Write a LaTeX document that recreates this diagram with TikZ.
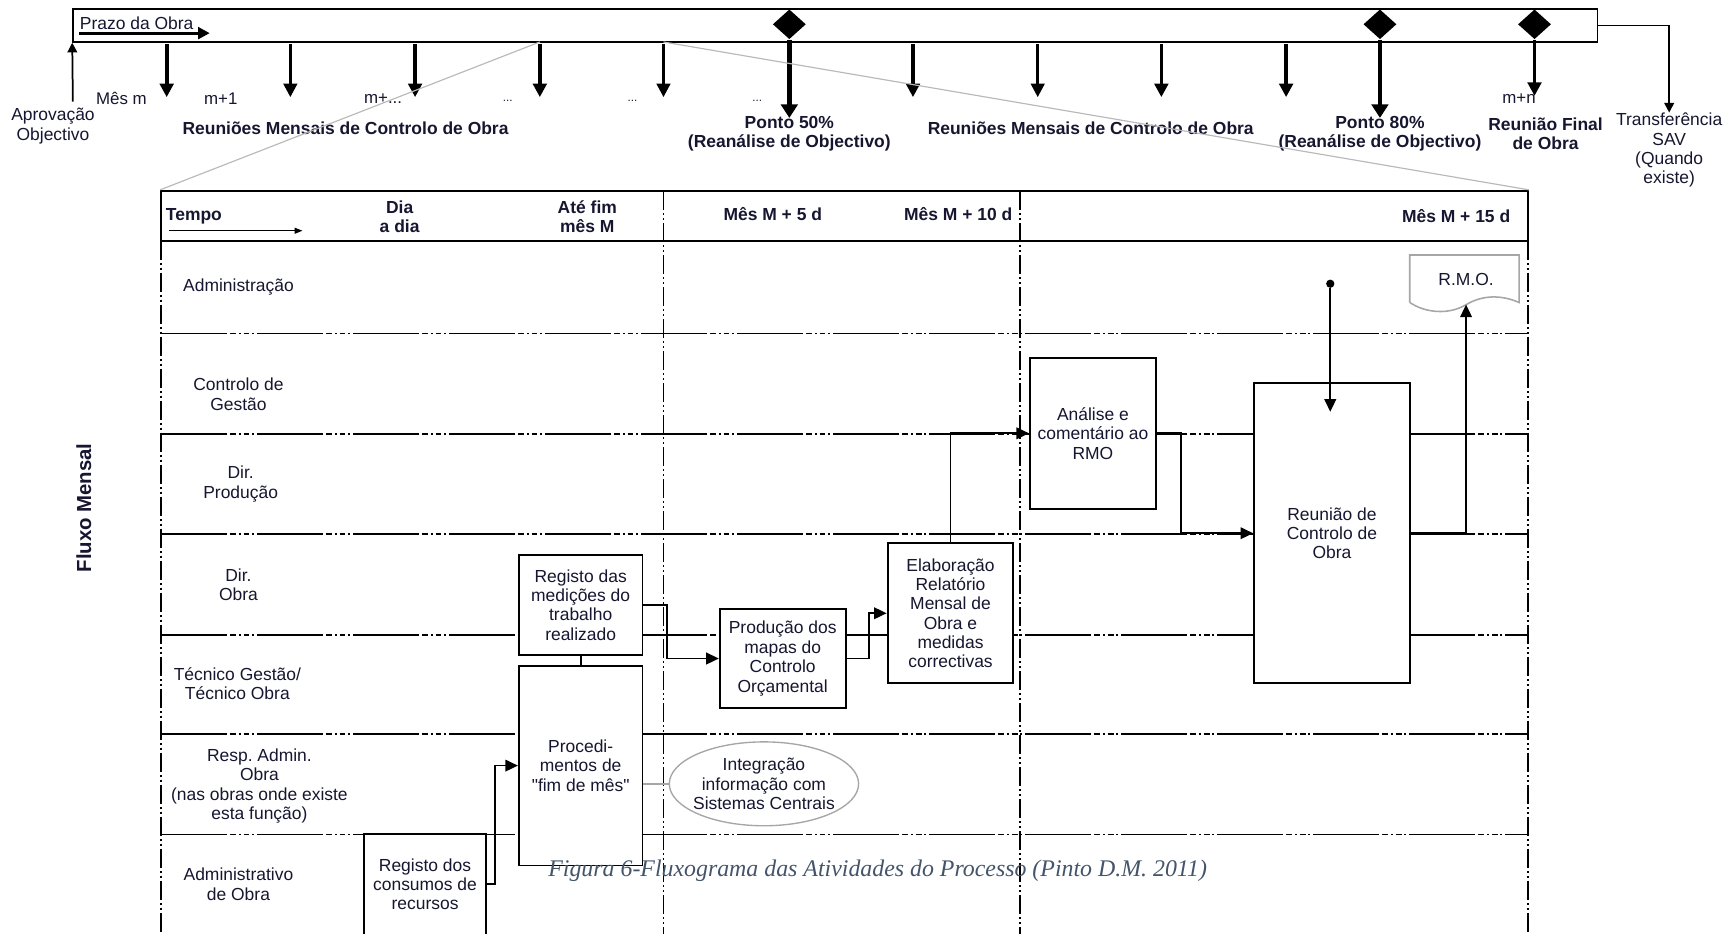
\documentclass[tikz,border=0pt]{standalone}
\usepackage{fontspec}
\setmainfont{Liberation Sans}
\newfontfamily\legendafont{Liberation Serif}
\usetikzlibrary{arrows.meta,positioning,shapes.geometric,calc}
\definecolor{tinta}{RGB}{22,22,48}
\definecolor{legendacor}{RGB}{68,84,106}

\begin{document}
\frenchspacing
\begin{tikzpicture}[x=0.02cm,y=-0.02cm,
    font=\fontsize{9}{10}\selectfont, text=tinta,
    rotulo/.style={align=center, inner sep=0pt},
    negrito/.style={rotulo, font=\fontsize{9}{10}\selectfont\bfseries},
    caixa/.style={draw, line width=1pt, fill=white, align=center, inner sep=1pt},
    fluxo/.style={line width=0.9pt, -{Triangle[length=6.5pt,width=6pt]}},
    fino/.style={line width=0.9pt, -{Triangle[length=5pt,width=5pt]}},
    mensal/.style={line width=1.9pt, -{Triangle[length=7pt,width=7pt]}},
    marcoseta/.style={line width=2.4pt, -{Triangle[length=7pt,width=8.5pt]}},
    marco/.style={diamond, fill=black, inner sep=0pt, minimum width=0.6cm, minimum height=0.54cm},
    raia/.style={line width=0.9pt, dash pattern=on 34pt off 1.5pt on 3pt off 1.5pt on 1pt off 1.5pt on 3pt off 1.5pt on 1pt off 1.5pt},
    coluna/.style={line width=0.9pt, dash pattern=on 10pt off 1.5pt on 1pt off 1.5pt on 1pt off 1.5pt},
  ]
  \useasboundingbox (0,0) rectangle (1568,846);
  \clip (0,0) rectangle (1568,846);

  % barra do prazo da obra
  \node[draw, line width=0.8pt, minimum width=27.62cm, minimum height=0.6cm, inner sep=0pt] (prazo) at (756.5,23) {};
  \node[rotulo, anchor=base west] (prazotxt) at (72,27) {Prazo da Obra};
  \draw[line width=1.6pt, -{Triangle[length=6pt,width=6pt]}] (72,30) -- (190,30);

  \node[rotulo] (aprov) at (48,114) {Aprovação\\Objectivo};
  \coordinate (aprovbase) at (66,92);
  \draw[fino] (aprovbase) -- (prazo.south west);

  \foreach \x/\w in {151/2.1pt,263/1.5pt,376/2.1pt,489/2.1pt,601/1.5pt,827/2.1pt,940/1.5pt,1052/1.9pt,1165/2.1pt}
    \draw[mensal, line width=\w] (\x,40) -- (\x,88);

  \node[rotulo, font=\fontsize{8.7}{10}\selectfont] (mes1) at (110,89) {Mês m};
  \node[rotulo, font=\fontsize{8.7}{10}\selectfont] (mes2) at (200,89) {m+1};
  \node[rotulo, font=\fontsize{8.7}{10}\selectfont] (mes3) at (347,89) {m+...};
  \node[rotulo, font=\fontsize{8.7}{10}\selectfont] (mes4) at (1376,89) {m+n};
  \foreach \x in {460,573,686}
    \node[rotulo, font=\fontsize{6}{7}\selectfont] (pts\x) at (\x,91) {...};

  % marcos
  \node[marco] (m50) at (715,22) {};
  \node[marco] (m80) at (1250,22) {};
  \node[marco] (mfim) at (1390,22) {};
  \draw[marcoseta] (m50.south) -- ++(0,71);
  \draw[marcoseta] (m80.south) -- ++(0,71);
  \draw[mensal] (mfim.south) -- ++(0,51);

  \node[negrito] (reun1) at (313,116) {Reuniões Mensais de Controlo de Obra};
  \node[negrito] (reun2) at (988,116) {Reuniões Mensais de Controlo de Obra};
  \node[negrito] (p50) at (715,121) {Ponto 50\%\\(Reanálise de Objectivo)};
  \node[negrito] (p80) at (1250,121) {Ponto 80\%\\(Reanálise de Objectivo)};
  \node[negrito] (rfinal) at (1400,121) {Reunião Final\\de Obra};
  \node[rotulo, anchor=north] (sav) at (1512,102) {Transferência\\SAV\\(Quando\\existe)};
  \draw[fino] (prazo.east) -| (sav.north);

  % cabecalho do fluxo mensal
  \node[draw, line width=1.2pt, fill=white, minimum width=24.76cm, minimum height=0.9cm, inner sep=0pt] (cab) at (765,195.5) {};
  \draw[gray!55, line width=0.6pt] (489,38) -- (cab.north west);
  \draw[gray!55, line width=0.6pt] (601,38) -- (cab.north east);

  \node[negrito, anchor=west] (tempo) at (150,196) {Tempo};
  \draw[line width=0.6pt, -{Triangle[length=4pt,width=3pt]}] (153,209) -- (274,209);
  \node[negrito] (dia) at (362,196.5) {Dia\\a dia};
  \node[negrito] (fimmes) at (532,196.5) {Até fim\\mês M};
  \node[negrito] (d5) at (700,194) {Mês M + 5 d};
  \node[negrito] (d10) at (868,194) {Mês M + 10 d};
  \node[negrito] (d15) at (1319,196) {Mês M + 15 d};

  % raias
  \foreach \y in {302,393,484,575,665,756}
    \draw[raia] (146,\y) -- (1384,\y);
  \foreach \x in {146,1384}
    \draw[coluna] (\x,218) -- (\x,846);
  \foreach \x in {601,924}
    \draw[coluna] (\x,173) -- (\x,846);

  \node[rotulo] (admin) at (216,260) {Administração};
  \node[rotulo] (gestao) at (216,357) {Controlo de\\Gestão};
  \node[rotulo] (dirprod) at (218,438.5) {Dir.\\Produção};
  \node[rotulo] (dirobra) at (216,529.5) {Dir.\\Obra};
  \node[rotulo] (tecnico) at (215,619.5) {Técnico Gestão/\\Técnico Obra};
  \node[rotulo] (respadmin) at (235,712) {Resp. Admin.\\Obra\\(nas obras onde existe\\esta função)};
  \node[rotulo] (administ) at (216,801) {Administrativo\\de Obra};
  \node[rotate=90, font=\fontsize{10.5}{12}\selectfont\bfseries, inner sep=0pt] (fluxomensal) at (76,460) {Fluxo Mensal};

  % actividades
  \node[caixa, minimum width=2.24cm, minimum height=1.8cm] (medicoes) at (526,548) {Registo das\\medições do\\trabalho\\realizado};
  \node[caixa, minimum width=2.24cm, minimum height=3.62cm] (proced) at (526,693.5) {Procedi-\\mentos de\\\textquotedbl fim de mês\textquotedbl};
  \node[rotulo, minimum width=2.2cm, minimum height=1.8cm] (consumos) at (385,801) {Registo dos\\consumos de\\recursos};
  \draw[line width=1pt] (consumos.south west) |- (consumos.north east) -- (consumos.south east);
  \node[caixa, minimum width=2.28cm, minimum height=1.78cm] (producao) at (709,596.5) {Produção dos\\mapas do\\Controlo\\Orçamental};
  \node[caixa, minimum width=2.28cm, minimum height=2.54cm] (elabor) at (861,555.5) {Elaboração\\Relatório\\Mensal de\\Obra e\\medidas\\correctivas};
  \node[caixa, minimum width=2.28cm, minimum height=2.74cm] (analise) at (990,392.5) {Análise e\\comentário ao\\RMO};
  \node[caixa, minimum width=2.82cm, minimum height=5.44cm] (reuniao) at (1206.5,483) {Reunião de\\Controlo de\\Obra};
  \node[ellipse, draw=gray!70, line width=0.7pt, fill=white, minimum width=3.4cm, minimum height=1.52cm, align=center, inner xsep=-2pt, inner ysep=0pt] (integr) at (692,710) {Integração\\informação com\\Sistemas Centrais};

  % documento R.M.O.
  \draw[gray!70, line width=0.8pt] (1277,274) -- (1277,231) -- (1376,231) -- (1376,274)
    .. controls (1360,267) and (1343,267) .. (1328,276)
    .. controls (1313,285) and (1292,284) .. (1277,274);
  \node[rotulo, minimum width=1.98cm, minimum height=0.89cm] (rmo) at (1328,253.25) {R.M.O.};
  \node[circle, fill=black, inner sep=0pt, minimum size=0.15cm] (ponto) at (1205,257) {};
  \coordinate (entrada) at (1205,373);

  % ligacoes
  \draw[fluxo] (consumos.east) -- ++(8,0) |- (proced.west);
  \draw[line width=1pt] (medicoes.south) -- (proced.north);
  \draw[fluxo] (medicoes.east) -- ++(21,0) |- (producao.west);
  \draw[fluxo] (producao.east) -- ++(20,0) |- (elabor.west);
  \draw[fluxo] (elabor.north) |- (analise.west);
  \draw[fluxo] (analise.east) -- ++(22,0) |- (reuniao.west);
  \draw[fluxo] (reuniao.east) -| (rmo.south);
  \draw[fluxo] (ponto) -- (entrada);
  \draw[gray!70, line width=0.7pt] (proced.east |- integr.west) -- (integr.west);

  \node[font=\legendafont\itshape\fontsize{12.3}{14}\selectfont, text=legendacor, inner sep=0pt] (legenda) at (795,789) {Figura 6-Fluxograma das Atividades do Processo (Pinto D.M. 2011)};
\end{tikzpicture}
\end{document}
